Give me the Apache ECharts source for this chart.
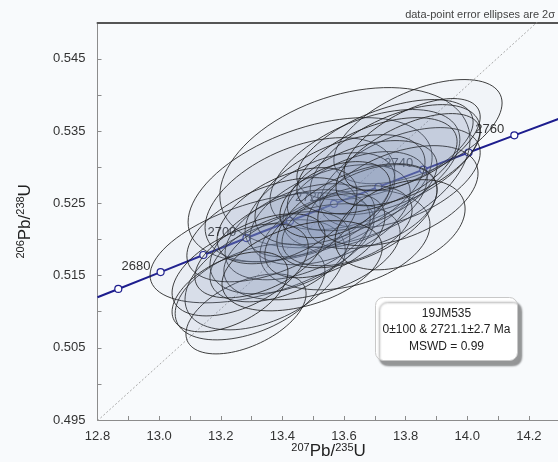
<!DOCTYPE html>
<html>
<head>
<meta charset="utf-8">
<script src="https://cdn.jsdelivr.net/npm/echarts@6/dist/echarts.min.js"></script>
<style>
  html, body { margin: 0; padding: 0; background: #f8fafc; }
  #chart { width: 558px; height: 462px; }
</style>
</head>
<body>
<div id="chart"></div>
<script>
// Concordia reference markers (age in Ma and ratio pairs)
const concordiaAges = [2670, 2680, 2690, 2700, 2710, 2720, 2730, 2740, 2750, 2760];
const concordiaX = [12.8675, 13.0048, 13.1434, 13.2834, 13.4247, 13.5675, 13.7117, 13.8573, 14.0043, 14.1528];
const concordiaY = [0.51314, 0.51548, 0.51784, 0.52019, 0.52255, 0.52492, 0.52728, 0.52966, 0.53203, 0.53441];
const concordiaStart = [12.800, 0.51199];
const concordiaEnd = [14.3027, 0.53679];
const labelledAges = [2680, 2700, 2720, 2740, 2760];

// Discordia through the origin and the upper intercept
const discordiaX = [12.8, 14.3];
const discordiaY = [0.4949, 0.5529];

// Spot analyses: 207Pb/235U, 206Pb/238U, 2-sigma errors and error correlation
const ellX    = [13.603, 13.490, 13.334, 13.840, 13.668, 13.457, 13.733, 13.344, 13.295, 13.282,
                 13.603, 13.782, 13.766, 13.555, 13.522, 13.636, 13.457, 13.425, 13.496, 13.587,
                 13.659, 13.691, 13.392, 13.366, 13.610, 13.538, 13.415, 13.642, 13.775, 13.263,
                 13.327, 13.707, 13.571, 13.808, 13.464, 13.230, 13.821, 13.782];
const ellY    = [0.52993, 0.52688, 0.51884, 0.53492, 0.52966, 0.52550, 0.53243, 0.51510, 0.51274, 0.50969,
                 0.51995, 0.52855, 0.53104, 0.52342, 0.52480, 0.52550, 0.52106, 0.51967, 0.51829, 0.52688,
                 0.52744, 0.52453, 0.51760, 0.52134, 0.52189, 0.52051, 0.52328, 0.52328, 0.52605, 0.51579,
                 0.51773, 0.53021, 0.52550, 0.53104, 0.51635, 0.51274, 0.53312, 0.52203];
const ellErrX = [0.406, 0.396, 0.3635, 0.273, 0.308, 0.308, 0.286, 0.260, 0.243, 0.195,
                 0.276, 0.260, 0.276, 0.260, 0.243, 0.234, 0.243, 0.260, 0.286, 0.276,
                 0.243, 0.211, 0.227, 0.276, 0.211, 0.195, 0.227, 0.260, 0.260, 0.221,
                 0.211, 0.260, 0.179, 0.234, 0.260, 0.188, 0.221, 0.211];
const ellErrY = [0.01109, 0.00998, 0.00762, 0.00721, 0.00832, 0.00859, 0.00693, 0.00762, 0.00665, 0.00554,
                 0.00693, 0.00693, 0.00762, 0.00693, 0.00721, 0.00665, 0.00665, 0.00721, 0.00665, 0.00762,
                 0.00624, 0.00582, 0.00624, 0.00721, 0.00554, 0.00582, 0.00665, 0.00721, 0.00693, 0.00638,
                 0.00582, 0.00665, 0.00527, 0.00638, 0.00624, 0.00554, 0.00638, 0.00624];
const ellRho  = [0.35, 0.45, 0.50, 0.55, 0.50, 0.45, 0.55, 0.45, 0.45, 0.50,
                 0.30, 0.50, 0.55, 0.45, 0.50, 0.45, 0.45, 0.45, 0.40, 0.50,
                 0.45, 0.40, 0.45, 0.50, 0.40, 0.45, 0.50, 0.50, 0.45, 0.50,
                 0.50, 0.50, 0.40, 0.60, 0.40, 0.50, 0.60, 0.35];

const sampleName = '19JM535';
const interceptText = '0±100 & 2721.1±2.7 Ma';
const mswdText = 'MSWD = 0.99';
const captionText = 'data-point error ellipses are 2σ';

const FONT = '"Liberation Sans", Arial, sans-serif';

const chart = echarts.init(document.getElementById('chart'), null, { renderer: 'canvas' });

const ellipseData = ellX.map((x, i) => [x, ellY[i], ellErrX[i], ellErrY[i], ellRho[i]]);
const concordiaLine = [concordiaStart].concat(concordiaX.map((x, i) => [x, concordiaY[i]])).concat([concordiaEnd]);
const concordiaMarks = concordiaAges.map((a, i) => [concordiaX[i], concordiaY[i], a]);

// Each analysis is drawn as its error ellipse, traced in data space
function renderEllipse(params, api) {
  const x0 = api.value(0), y0 = api.value(1);
  const ex = api.value(2), ey = api.value(3), rho = api.value(4);
  const k = Math.sqrt(1 - rho * rho);
  const pts = [];
  const n = 90;
  for (let j = 0; j < n; j++) {
    const t = (j / n) * Math.PI * 2;
    const c = Math.cos(t), s = Math.sin(t);
    pts.push(api.coord([x0 + ex * c, y0 + ey * (rho * c + k * s)]));
  }
  return {
    type: 'polygon',
    shape: { points: pts },
    style: {
      fill: 'rgba(125,148,188,0.055)',
      stroke: 'rgba(30,30,30,0.85)',
      lineWidth: 1
    }
  };
}

const supStyle = { fontSize: 11, fontFamily: FONT, color: '#222', verticalAlign: 'top', lineHeight: 12, padding: [2, 0, 0, 0] };
const mainStyle = { fontSize: 17, fontFamily: FONT, color: '#222', verticalAlign: 'bottom', lineHeight: 20 };

chart.setOption({
  backgroundColor: '#f8fafc',
  animation: false,
  grid: { left: 97.5, top: 22.7, width: 462.2, height: 397.3, containLabel: false, outerBoundsMode: 'none' },
  xAxis: [{
    type: 'value', min: 12.8, max: 14.3, interval: 0.1,
    axisLine: { lineStyle: { color: '#8c8c8c', width: 1 } },
    axisTick: { inside: true, length: 4, lineStyle: { color: '#8c8c8c' } },
    splitLine: { show: false },
    axisLabel: {
      margin: 10, fontSize: 13, fontFamily: FONT, color: '#333',
      formatter: v => (Math.round(v * 10) % 2 === 0 ? v.toFixed(1) : '')
    },
    name: '{sup|207}{main|Pb/}{sup|235}{main|U}',
    nameLocation: 'middle', nameGap: 20, nameMoveOverlap: false,
    nameTextStyle: { rich: { sup: supStyle, main: mainStyle } }
  }, {
    type: 'value', min: 12.8, max: 14.3, position: 'top',
    axisLine: { show: true, lineStyle: { color: '#555', width: 2 } },
    axisTick: { show: false }, axisLabel: { show: false }, splitLine: { show: false }
  }],
  yAxis: [{
    type: 'value', min: 0.495, max: 0.55, interval: 0.005,
    axisLine: { show: true, lineStyle: { color: '#8c8c8c', width: 1 } },
    axisTick: { show: true, inside: true, length: 4, lineStyle: { color: '#8c8c8c' } },
    splitLine: { show: false },
    axisLabel: {
      margin: 12, fontSize: 13, fontFamily: FONT, color: '#333', showMaxLabel: false,
      formatter: v => (Math.round(v * 1000) % 10 === 5 ? v.toFixed(3) : '')
    },
    name: '{sup|206}{main|Pb/}{sup|238}{main|U}',
    nameLocation: 'middle', nameRotate: 90, nameGap: 64,
    nameTextStyle: { rich: { sup: supStyle, main: mainStyle } }
  }],
  series: [
    {
      name: 'discordia', type: 'line', z: 1, silent: true,
      data: discordiaX.map((x, i) => [x, discordiaY[i]]),
      showSymbol: false,
      lineStyle: { color: '#a8a8a8', width: 1, type: [2, 2] }
    },
    {
      name: 'concordia', type: 'line', z: 2, silent: true,
      data: concordiaLine,
      showSymbol: false,
      lineStyle: { color: '#1d1d8e', width: 2 }
    },
    {
      name: 'ages', type: 'scatter', z: 2, silent: true,
      data: concordiaMarks,
      symbol: 'circle', symbolSize: 7,
      itemStyle: { color: '#ffffff', borderColor: '#1d1d8e', borderWidth: 1.2, opacity: 1 },
      label: {
        show: true, position: 'left', distance: 4, offset: [-2, -6],
        fontSize: 13, fontFamily: FONT, color: '#333',
        formatter: p => (labelledAges.indexOf(p.value[2]) >= 0 ? String(p.value[2]) : '')
      }
    },
    {
      name: 'spots', type: 'custom', z: 3, silent: true,
      renderItem: renderEllipse,
      data: ellipseData,
      encode: { x: 0, y: 1 }
    }
  ],
  graphic: [
    {
      type: 'text', right: 3, top: 9, z: 10,
      style: { text: captionText, fontSize: 11, fontFamily: FONT, fill: '#444' }
    },
    {
      type: 'group', left: 375, top: 297, z: 10,
      children: [
        {
          type: 'rect', shape: { x: 0, y: 0, width: 142, height: 63, r: 8 },
          style: {
            fill: '#ffffff', stroke: '#c8c8c8', lineWidth: 1,
            shadowColor: 'rgba(0,0,0,0.4)', shadowOffsetX: 4, shadowOffsetY: 5, shadowBlur: 2
          }
        },
        {
          type: 'text', x: 71, y: 16,
          style: { text: sampleName, fontSize: 12, fontFamily: FONT, fill: '#222', align: 'center', verticalAlign: 'middle' }
        },
        {
          type: 'text', x: 71, y: 32.5,
          style: { text: interceptText, fontSize: 12, fontFamily: FONT, fill: '#222', align: 'center', verticalAlign: 'middle' }
        },
        {
          type: 'text', x: 71, y: 49,
          style: { text: mswdText, fontSize: 12, fontFamily: FONT, fill: '#222', align: 'center', verticalAlign: 'middle' }
        }
      ]
    }
  ]
});
</script>
</body>
</html>
